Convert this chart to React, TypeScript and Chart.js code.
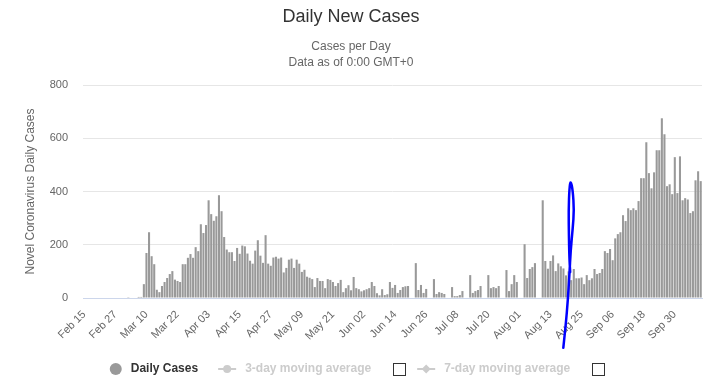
import React, { useEffect, useRef } from "react";
import { Chart, registerables } from "chart.js";

Chart.register(...registerables);

// ---- data ----
const startDate = "2020-02-15";
const dayCount = 239;
const tickEvery = 12;
const monthNames = ["Jan", "Feb", "Mar", "Apr", "May", "Jun", "Jul", "Aug", "Sep", "Oct", "Nov", "Dec"];

const dailyCases = [
  0, 0, 0, 0, 0, 0, 0, 0, 0, 0, 0, 0, 0, 0, 0, 0, 0, 3, 0, 0,
  0, 4, 4, 52, 169, 247, 157, 127, 31, 22, 45, 60, 75, 90, 101, 69, 64, 60, 127, 127,
  151, 165, 151, 191, 176, 277, 244, 274, 367, 315, 290, 307, 386, 326, 229, 182, 172, 172, 139, 188,
  166, 197, 194, 167, 140, 129, 178, 217, 159, 132, 236, 129, 121, 152, 155, 148, 152, 96, 113, 144,
  148, 113, 144, 129, 98, 106, 80, 76, 71, 41, 75, 64, 64, 37, 71, 68, 60, 45, 56, 68,
  22, 37, 48, 29, 79, 37, 33, 25, 29, 33, 37, 60, 45, 18, 10, 33, 11, 14, 60, 38,
  49, 19, 30, 41, 44, 45, 0, 0, 131, 30, 49, 19, 34, 0, 0, 71, 15, 22, 19, 15,
  0, 0, 41, 7, 7, 11, 26, 0, 0, 86, 19, 26, 30, 45, 0, 0, 86, 37, 41, 37,
  45, 0, 0, 105, 26, 52, 86, 60, 0, 0, 202, 75, 109, 116, 131, 0, 0, 367, 139, 110,
  139, 160, 101, 130, 119, 111, 85, 100, 67, 109, 74, 74, 77, 52, 86, 67, 74, 109, 90, 94,
  109, 176, 169, 184, 142, 224, 240, 247, 311, 289, 337, 330, 337, 330, 364, 450, 450, 585, 469, 412,
  472, 555, 555, 675, 615, 420, 427, 390, 529, 394, 532, 367, 375, 370, 319, 326, 442, 476, 439,
];

const yTicks = [0, 200, 400, 600, 800];
const titleText = "Daily New Cases";
const subtitleLines = ["Cases per Day", "Data as of 0:00 GMT+0"];
const yAxisTitle = "Novel Coronavirus Daily Cases";
const legendNames = ["Daily Cases", "3-day moving average", "7-day moving average"];

// hand-drawn annotation, in (category index, value) units
const scribble: [number, number][] = [
  [184.95, -187], [185.9, -101], [186.7, -8], [187.3, 86], [187.8, 180], [188.6, 262],
  [189.1, 330], [188.6, 405], [187.8, 442], [187.3, 412], [187.0, 330], [187.1, 236],
  [187.3, 150], [187.6, 97],
];

function buildCategories(): string[] {
  const out: string[] = [];
  const d0 = new Date(startDate + "T00:00:00Z");
  for (let i = 0; i < dayCount; i++) {
    const d = new Date(d0.getTime() + i * 86400000);
    const day = d.getUTCDate();
    out.push(monthNames[d.getUTCMonth()] + " " + (day < 10 ? "0" + day : String(day)));
  }
  return out;
}

const FONT = "'Liberation Sans', Arial, sans-serif";

const legendPlugin = {
  id: "customLegend",
  afterDraw(chart: any) {
    const ctx = chart.ctx as CanvasRenderingContext2D;
    ctx.save();
    const y = 369;
    ctx.font = "bold 12px " + FONT;
    ctx.textBaseline = "middle";
    ctx.textAlign = "left";
    const w = legendNames.map((n) => ctx.measureText(n).width);
    const circleW = 12, symGap = 9, lineW = 18, itemGap = 20, boxGap = 22, box = 12, afterBox = 12;
    const total =
      circleW + symGap + w[0] + itemGap +
      lineW + symGap + w[1] + boxGap + box + afterBox +
      lineW + symGap + w[2] + boxGap + box;
    let x = 357 - total / 2;
    // item 0
    ctx.fillStyle = "#999999";
    ctx.beginPath();
    ctx.arc(x + 6, y, 6, 0, Math.PI * 2);
    ctx.fill();
    x += circleW + symGap;
    ctx.fillStyle = "#333333";
    ctx.fillText(legendNames[0], x, y);
    x += w[0] + itemGap;
    // item 1 and 2 (hidden series)
    for (let k = 1; k <= 2; k++) {
      ctx.strokeStyle = "#cccccc";
      ctx.fillStyle = "#cccccc";
      ctx.lineWidth = 2;
      ctx.beginPath();
      ctx.moveTo(x, y);
      ctx.lineTo(x + lineW, y);
      ctx.stroke();
      const cx = x + lineW / 2;
      ctx.beginPath();
      if (k === 1) {
        ctx.arc(cx, y, 4, 0, Math.PI * 2);
      } else {
        ctx.moveTo(cx, y - 4.5);
        ctx.lineTo(cx + 4.5, y);
        ctx.lineTo(cx, y + 4.5);
        ctx.lineTo(cx - 4.5, y);
        ctx.closePath();
      }
      ctx.fill();
      x += lineW + symGap;
      ctx.fillStyle = "#cccccc";
      ctx.fillText(legendNames[k], x, y);
      x += w[k] + boxGap;
      ctx.strokeStyle = "#333333";
      ctx.lineWidth = 1;
      ctx.strokeRect(Math.round(x) + 0.5, y - 5.5, box, box);
      x += box + afterBox;
    }
    ctx.restore();
  },
};

const scribblePlugin = {
  id: "scribble",
  afterDraw(chart: any) {
    const ctx = chart.ctx as CanvasRenderingContext2D;
    const xs = chart.scales.x;
    const ys = chart.scales.y;
    const pts = scribble.map(([i, v]) => [xs.getPixelForValue(i), ys.getPixelForValue(v)]);
    ctx.save();
    ctx.strokeStyle = "#0000ff";
    ctx.lineWidth = 2.5;
    ctx.lineCap = "round";
    ctx.lineJoin = "round";
    ctx.beginPath();
    ctx.moveTo(pts[0][0], pts[0][1]);
    for (let k = 1; k < pts.length - 1; k++) {
      const mx = (pts[k][0] + pts[k + 1][0]) / 2;
      const my = (pts[k][1] + pts[k + 1][1]) / 2;
      ctx.quadraticCurveTo(pts[k][0], pts[k][1], mx, my);
    }
    const last = pts[pts.length - 1];
    ctx.lineTo(last[0], last[1]);
    ctx.stroke();
    ctx.restore();
  },
};

export default function App() {
  const ref = useRef<HTMLCanvasElement>(null);
  useEffect(() => {
    document.body.style.margin = "0";
    const categories = buildCategories();
    const chart = new Chart(ref.current as HTMLCanvasElement, {
      type: "bar",
      data: {
        labels: categories,
        datasets: [
          {
            label: legendNames[0],
            data: dailyCases,
            backgroundColor: "#999999",
            borderWidth: 0,
            categoryPercentage: 1,
            barPercentage: 0.8,
          },
        ],
      },
      options: {
        responsive: false,
        animation: false,
        devicePixelRatio: 1,
        layout: { padding: { left: 0, right: 12, top: 0, bottom: 0 } },
        plugins: {
          legend: { display: false },
          tooltip: { enabled: false },
          title: {
            display: true,
            text: titleText,
            color: "#333333",
            font: { family: FONT, size: 18, weight: "normal" as any, lineHeight: 1.2 },
            padding: { top: 6, bottom: 0 },
          },
          subtitle: {
            display: true,
            text: subtitleLines,
            color: "#666666",
            font: { family: FONT, size: 12, weight: "normal" as any, lineHeight: "16px" as any },
            padding: { top: 11.4, bottom: 14 },
          },
        },
        scales: {
          x: {
            grid: { display: false },
            border: { display: true, color: "#ccd6eb", width: 1 },
            ticks: {
              autoSkip: false,
              maxRotation: 45,
              minRotation: 45,
              padding: 2,
              color: "#666666",
              font: { family: FONT, size: 11 },
              callback: (_v: any, idx: number) => (idx % tickEvery === 0 ? categories[idx] : null),
            },
            afterFit: (s: any) => {
              s.height = 82;
            },
          },
          y: {
            min: yTicks[0],
            max: yTicks[yTicks.length - 1],
            afterBuildTicks: (s: any) => {
              s.ticks = yTicks.map((v) => ({ value: v }));
            },
            grid: { color: "#e6e6e6", lineWidth: 1, drawTicks: false },
            border: { display: false },
            ticks: {
              padding: 15,
              color: "#666666",
              font: { family: FONT, size: 11 },
            },
            title: {
              display: true,
              text: yAxisTitle,
              color: "#666666",
              font: { family: FONT, size: 12 },
              padding: { top: 23, bottom: 0 },
            },
            afterFit: (s: any) => {
              s.width = 83;
            },
          },
        },
      },
      plugins: [legendPlugin, scribblePlugin],
    });
    return () => chart.destroy();
  }, []);
  return (
    <div style={{ width: 714, height: 380 }}>
      <canvas ref={ref} width={714} height={380} style={{ display: "block" }} />
    </div>
  );
}
